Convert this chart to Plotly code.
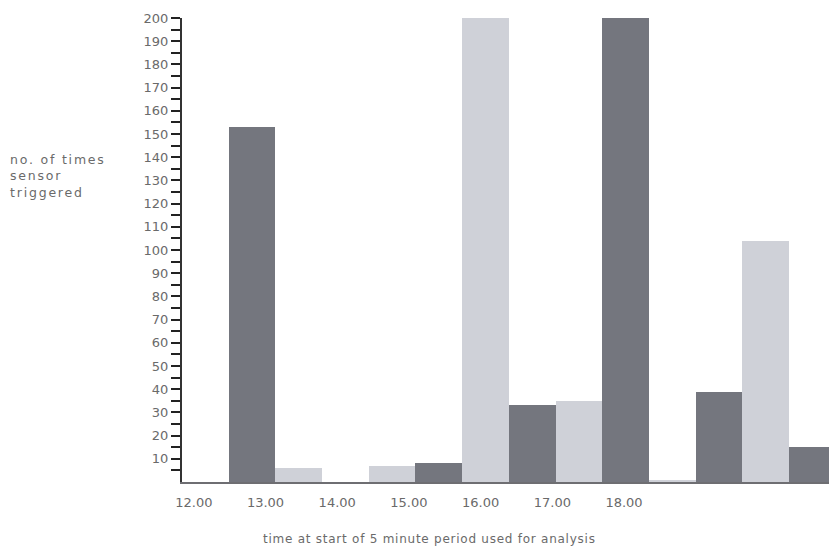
import plotly.graph_objects as go

# Data: 14 consecutive 5-minute slots, alternating light / dark series
light_slots = [0, 2, 4, 6, 8, 10, 12]
light_vals = [0, 6, 7, 200, 35, 1, 104]
dark_slots = [1, 3, 5, 7, 9, 11, 13]
dark_vals = [153, 0, 8, 33, 200, 39, 15]

hour_ticks = [12, 13, 14, 15, 16, 17, 18]
hour_labels = ["12.00", "13.00", "14.00", "15.00", "16.00", "17.00", "18.00"]

y_major = list(range(10, 201, 10))
y_minor = list(range(5, 200, 10))

LIGHT = "#cfd1d8"
DARK = "#74767e"
TEXT = "#6a6a6a"
FONT = "DejaVu Sans"

fig = go.Figure()
fig.add_trace(go.Bar(x=light_slots, y=light_vals, width=1, marker=dict(color=LIGHT, line=dict(width=0)),
                     showlegend=False, hoverinfo="skip"))
fig.add_trace(go.Bar(x=dark_slots, y=dark_vals, width=1, marker=dict(color=DARK, line=dict(width=0)),
                     showlegend=False, hoverinfo="skip"))
# empty trace to activate hour axis
fig.add_trace(go.Scatter(x=[], y=[], xaxis="x2", showlegend=False))

fig.update_layout(
    width=829, height=554,
    margin=dict(l=182, r=0, t=18, b=72, autoexpand=False),
    paper_bgcolor="white", plot_bgcolor="white",
    barmode="overlay", bargap=0,
    font=dict(family=FONT, color=TEXT, size=12),
    xaxis=dict(range=[-0.5, 13.357], showticklabels=False, ticks="",
               showgrid=False, zeroline=False, showline=True, automargin=False,
               linecolor="#6e6e72", linewidth=2),
    xaxis2=dict(range=[11.835, 20.859], overlaying="x", side="bottom", anchor="y",
                tickmode="array", tickvals=hour_ticks, ticktext=hour_labels,
                ticks="outside", ticklen=8, tickcolor="rgba(0,0,0,0)", automargin=False,
                showgrid=False, zeroline=False, showline=False,
                tickfont=dict(family=FONT, size=13, color=TEXT)),
    yaxis=dict(range=[0, 200], tickmode="array", tickvals=y_major,
               ticktext=[str(v) for v in y_major], automargin=False,
               ticks="outside", ticklen=9, tickwidth=2, tickcolor="#222",
               minor=dict(tickmode="array", tickvals=y_minor, ticks="outside",
                          ticklen=9, tickwidth=2, tickcolor="#222"),
               showgrid=False, zeroline=False, showline=True,
               linecolor="#333", linewidth=2,
               tickfont=dict(family=FONT, size=13, color=TEXT)),
)

ls_y = "letter-spacing:1.8px"
fig.add_annotation(text=(f"<span style='{ls_y}'>no. of times</span><br>"
                         f"<span style='{ls_y}'>sensor</span><br>"
                         f"<span style='{ls_y}'>triggered</span>"),
                   xref="paper", yref="paper",
                   x=-174 / 647, y=(482 - 150) / 464, xanchor="left", yanchor="top",
                   align="left", showarrow=False,
                   font=dict(family=FONT, size=12.5, color=TEXT))
fig.add_annotation(text="<span style='letter-spacing:0.75px'>time at start of 5 minute period used for analysis</span>",
                   xref="paper", yref="paper",
                   x=(429 - 182) / 647, y=-(539 - 482) / 464,
                   xanchor="center", yanchor="middle", showarrow=False,
                   font=dict(family=FONT, size=12, color=TEXT))

fig.write_html("out.html", config={"displayModeBar": False},
               post_script="document.body.style.margin='0';document.body.style.overflow='hidden';")
